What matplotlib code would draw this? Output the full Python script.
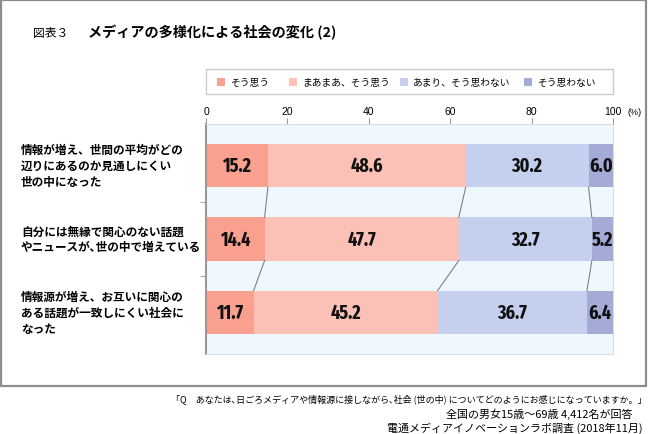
import matplotlib
matplotlib.use("Agg")
import matplotlib.pyplot as plt
from matplotlib import font_manager
from matplotlib.patches import Rectangle
from matplotlib.transforms import blended_transform_factory
import numpy as np

# ---------------- data ----------------
categories = [
    "情報が増え、世間の平均がどの\n辺りにあるのか見通しにくい\n世の中になった",
    "自分には無縁で関心のない話題\nやニュースが､世の中で増えている",
    "情報源が増え、お互いに関心の\nある話題が一致しにくい社会に\nなった",
]
series_names = ["そう思う", "まあまあ、そう思う", "あまり、そう思わない", "そう思わない"]
soo_omou = [15.2, 14.4, 11.7]
maamaa = [48.6, 47.7, 45.2]
amari = [30.2, 32.7, 36.7]
omowanai = [6.0, 5.2, 6.4]
series_values = [soo_omou, maamaa, amari, omowanai]
x_ticks = [0, 20, 40, 60, 80, 100]
colors = ["#F9A08E", "#FBC1B6", "#C5D0EE", "#A4ABD6"]

title_prefix = "図表３"
title = "メディアの多様化による社会の変化 (2)"
notes = [
    "「Q　あなたは､日ごろメディアや情報源に接しながら､社会 (世の中) についてどのようにお感じになっていますか。」",
    "全国の男女15歳～69歳 4,412名が回答",
    "電通メディアイノベーションラボ調査 (2018年11月)",
]

# ---------------- fonts ----------------
JP = ["Noto Sans CJK JP", "DejaVu Sans"]
plt.rcParams["font.family"] = JP


def pick_font(cands):
    for c in cands:
        try:
            font_manager.findfont(font_manager.FontProperties(family=c), fallback_to_default=False)
            return c
        except Exception:
            pass
    return "DejaVu Sans"


NUM = pick_font(["Fira Sans Extra Condensed", "Roboto Condensed", "PT Sans Narrow", "Liberation Sans"])
LAT = pick_font(["Liberation Sans", "DejaVu Sans"])

W, H = 650, 435
fig = plt.figure(figsize=(W / 100, H / 100), dpi=100)


def fx(x):
    return x / W


def fy(y):
    return 1 - y / H


# outer border
fig.patches.append(Rectangle((fx(1), fy(387)), fx(646) - fx(1), fy(1) - fy(387),
                             transform=fig.transFigure, fill=False,
                             edgecolor="#8c8c8c", linewidth=1.6, zorder=0))

# titles
fig.text(fx(33), fy(33), title_prefix, fontsize=8.5, va="center", ha="left", family=JP)
fig.text(fx(88), fy(33), title, fontsize=10.2, fontweight="bold", va="center", ha="left", family=JP)

# legend box
fig.patches.append(Rectangle((fx(206), fy(95)), fx(613) - fx(206), fy(70) - fy(95),
                             transform=fig.transFigure, facecolor="white",
                             edgecolor="#cccccc", linewidth=1.0, zorder=1))
leg_x = [217, 289, 400, 524]
for lx, name, c in zip(leg_x, series_names, colors):
    fig.patches.append(Rectangle((fx(lx), fy(86.5)), fx(8), 8 / H, transform=fig.transFigure,
                                 facecolor=c, edgecolor="none", zorder=2))
    fig.text(fx(lx + 13), fy(82.5), name, fontsize=7, va="center", ha="left", family=JP, zorder=3)

# axes
ax = fig.add_axes([fx(206), fy(355), fx(613) - fx(206), fy(125) - fy(355)])
ax.set_facecolor("#F0F8FF")

y = np.arange(len(categories))
bar_h = 0.59
left = np.zeros(len(categories))
for vals, c in zip(series_values, colors):
    vals = np.array(vals)
    ax.barh(y, vals, left=left, height=bar_h, color=c, edgecolor="none", zorder=2)
    for yi, (l, v) in enumerate(zip(left, vals)):
        ax.text(l + v / 2, yi, f"{v:.1f}", ha="center", va="center",
                fontsize=14, fontweight="bold", family=NUM, color="#111111", zorder=4)
    left = left + vals

# connector lines
cum = np.cumsum(np.array(series_values).T, axis=1)
for i in range(len(categories) - 1):
    for j in range(3):
        ax.plot([cum[i, j], cum[i + 1, j]], [i + bar_h / 2, i + 1 - bar_h / 2],
                color="#808080", linewidth=0.8, zorder=3)

ax.set_xlim(0, 100)
ax.set_ylim(2.57, -0.57)
ax.xaxis.tick_top()
ax.set_xticks(x_ticks)
ax.set_xticklabels([str(t) for t in x_ticks], fontsize=7.5, family=[LAT, "DejaVu Sans"])
ax.tick_params(axis="x", direction="out", length=4, width=0.8, color="#999999", pad=2)
ax.set_yticks([0.5, 1.5])
ax.set_yticklabels([])
ax.tick_params(axis="y", direction="out", length=4, width=0.8, color="#aaaaaa")
for s in ["right", "bottom", "top"]:
    ax.spines[s].set_color("#d8dde3")
    ax.spines[s].set_linewidth(0.8)
ax.spines["left"].set_color("#999999")
ax.spines["left"].set_linewidth(1.5)

fig.text(fx(627), fy(113), "(%)", fontsize=6.5, va="center", ha="left", family=[LAT, "DejaVu Sans"])

# category labels
tr = blended_transform_factory(fig.transFigure, ax.transData)
for yi, lab in zip(y, categories):
    ax.text(fx(21), yi, lab, transform=tr, ha="left", va="center", fontsize=8.4,
            fontweight="bold", family=JP, linespacing=1.3)

# notes
note_pos = [(647, 399, 6.5), (633, 414, 7.9), (643, 428, 7.9)]
for (nx, ny, fs), note in zip(note_pos, notes):
    fig.text(fx(nx), fy(ny), note, fontsize=fs, ha="right", va="center", family=JP)

fig.savefig("out.png", dpi=100)
